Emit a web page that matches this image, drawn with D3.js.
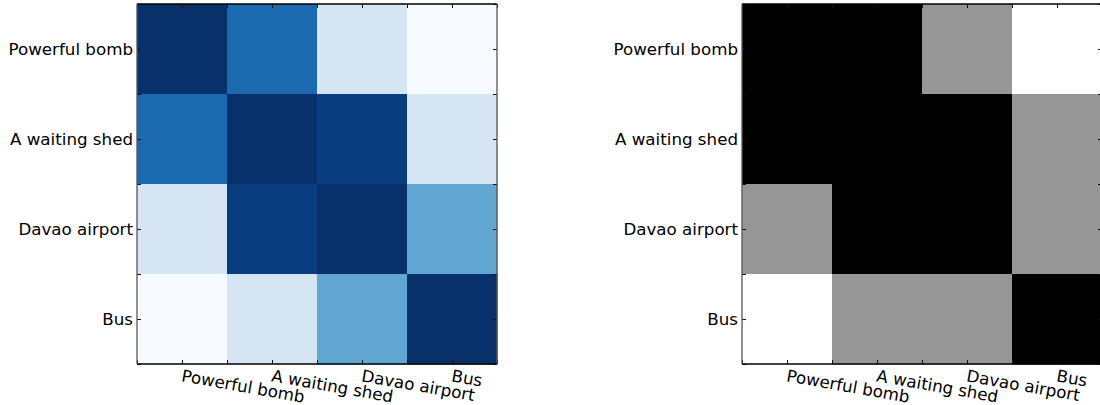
<!DOCTYPE html>
<html>
<head>
  <meta charset="utf-8">
  <script src="https://d3js.org/d3.v7.min.js"></script>
  <style>
    body { margin: 0; background: #fff; }
    text { font-family: "DejaVu Sans", sans-serif; }
  </style>
</head>
<body>
<script type="text/javascript">
  // categories (same on both axes)
  var labels = ["Powerful bomb", "A waiting shed", "Davao airport", "Bus"];

  // left panel: similarity values (Blues)
  var simValues = [
    [1.00, 0.78, 0.17, 0.00],
    [0.78, 1.00, 0.95, 0.17],
    [0.17, 0.95, 1.00, 0.53],
    [0.00, 0.17, 0.53, 1.00]
  ];

  // right panel: thresholded values (Greys)
  var matchValues = [
    [1.0, 1.0, 0.5, 0.0],
    [1.0, 1.0, 1.0, 0.5],
    [0.5, 1.0, 1.0, 0.5],
    [0.0, 0.5, 0.5, 1.0]
  ];

  // tick positions in cell units (centres and cell edges)
  var tickValues = [-0.5, 0, 0.5, 1, 1.5, 2, 2.5, 3, 3.5];

  var bluesStops = ["#f7fbff", "#deebf7", "#c6dbef", "#9ecae1", "#6baed6",
                    "#4292c6", "#2171b5", "#08519c", "#08306b"];
  var greysStops = ["#ffffff", "#f0f0f0", "#d9d9d9", "#bdbdbd", "#969696",
                    "#737373", "#525252", "#252525", "#000000"];

  var width = 1100, height = 405, size = 360;

  var svg = d3.select("body").append("svg")
      .attr("width", width)
      .attr("height", height);

  function stopScale(stops) {
    return d3.scaleLinear()
      .domain(d3.range(stops.length).map(function (i) { return i / (stops.length - 1); }))
      .range(stops)
      .clamp(true);
  }

  function drawPanel(x0, y0, values, stops) {
    var color = stopScale(stops);
    var g = svg.append("g").attr("transform", "translate(" + x0 + "," + y0 + ")");

    var x = d3.scaleBand().domain(labels).range([0, size]);
    var y = d3.scaleBand().domain(labels).range([0, size]);
    // linear scales for matplotlib-like tick positions
    var xl = d3.scaleLinear().domain([-0.5, 3.5]).range([0, size]);
    var yl = d3.scaleLinear().domain([-0.5, 3.5]).range([0, size]);

    var cells = [];
    values.forEach(function (row, i) {
      row.forEach(function (v, j) {
        cells.push({ r: labels[i], c: labels[j], v: v });
      });
    });

    g.selectAll("rect.cell")
      .data(cells)
      .enter()
      .append("rect")
        .attr("class", "cell")
        .attr("x", function (d) { return x(d.c); })
        .attr("y", function (d) { return y(d.r); })
        .attr("width", x.bandwidth() + 0.5)
        .attr("height", y.bandwidth() + 0.5)
        .style("fill", function (d) { return color(d.v); });

    // inward ticks on all four sides
    var axes = [
      { a: d3.axisBottom(xl), t: "translate(0," + size + ")" },
      { a: d3.axisTop(xl), t: "translate(0,0)" },
      { a: d3.axisLeft(yl), t: "translate(0,0)" },
      { a: d3.axisRight(yl), t: "translate(" + size + ",0)" }
    ];
    axes.forEach(function (ax) {
      var a = g.append("g")
        .attr("transform", ax.t)
        .call(ax.a.tickValues(tickValues).tickSize(-4).tickFormat(""));
      a.select(".domain").remove();
      a.selectAll("line").style("stroke", "#111").style("stroke-width", 1);
    });

    // frame
    g.append("line").attr("x1", 0).attr("x2", size).attr("y1", 0).attr("y2", 0)
      .style("stroke", "#000").style("stroke-width", 1.3);
    g.append("line").attr("x1", 0).attr("x2", size).attr("y1", size).attr("y2", size)
      .style("stroke", "#000").style("stroke-width", 1.3);
    g.append("line").attr("x1", 0).attr("x2", 0).attr("y1", 0).attr("y2", size)
      .style("stroke", "#555").style("stroke-width", 1.3);
    g.append("line").attr("x1", size).attr("x2", size).attr("y1", 0).attr("y2", size)
      .style("stroke", "#555").style("stroke-width", 1.3);

    // y labels
    g.selectAll("text.ylab")
      .data(labels)
      .enter()
      .append("text")
        .attr("class", "ylab")
        .attr("x", -4)
        .attr("y", function (d) { return y(d) + y.bandwidth() / 2; })
        .attr("dy", "0.33em")
        .style("text-anchor", "end")
        .style("font-size", "16.7px")
        .text(function (d) { return d; });

    // x labels, tilted
    g.selectAll("text.xlab")
      .data(labels)
      .enter()
      .append("text")
        .attr("class", "xlab")
        .attr("transform", function (d) {
          return "translate(" + (x(d) + x.bandwidth() / 2 + 1) + "," + (size + 5) + ") rotate(10)";
        })
        .attr("dy", "0.74em")
        .style("text-anchor", "start")
        .style("font-size", "16.7px")
        .text(function (d) { return d; });
  }

  drawPanel(137, 4, simValues, bluesStops);
  drawPanel(742, 4, matchValues, greysStops);
</script>
</body>
</html>
